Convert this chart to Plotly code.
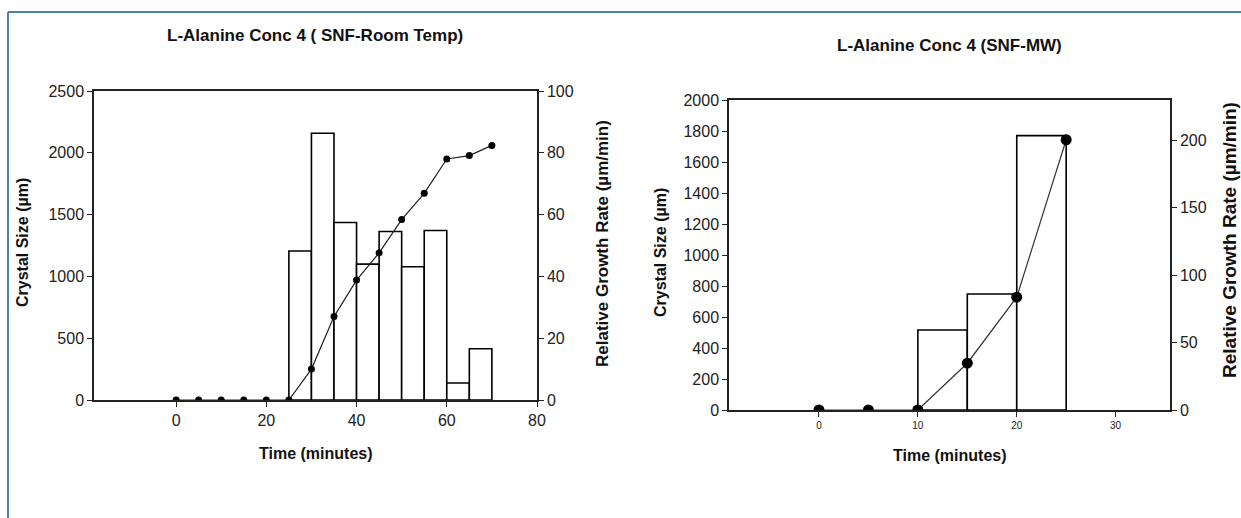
import plotly.graph_objects as go

# ---------------- data ----------------
# Left chart: SNF-Room Temp
rt_bar_start = [25, 30, 35, 40, 45, 50, 55, 60, 65]
rt_crystal_size = [1205, 2158, 1436, 1099, 1363, 1078, 1371, 137, 415]
rt_time = [0, 5, 10, 15, 20, 25, 30, 35, 40, 45, 50, 55, 60, 65, 70]
rt_growth_rate = [0, 0, 0, 0, 0, 0, 10.0, 27.0, 38.8, 47.6, 58.4, 66.9, 78.0, 79.1, 82.4]

# Right chart: SNF-MW
mw_bar_start = [10, 15, 20]
mw_crystal_size = [516, 748, 1770]
mw_time = [0, 5, 10, 15, 20, 25]
mw_growth_rate = [0, 0, 0, 34.7, 83.7, 200.5]

rt_xticks = [0, 20, 40, 60, 80]
mw_xticks = [0, 10, 20, 30]

W, H = 1241, 518
FONT = "Liberation Sans, Arial, sans-serif"


def px(x):
    return x / W


def py(y):
    return 1 - y / H


fig = go.Figure()

bar_style = dict(marker=dict(color="white", line=dict(color="black", width=1.6)),
                 width=5, offset=0, showlegend=False)

fig.add_trace(go.Bar(x=rt_bar_start, y=rt_crystal_size, xaxis="x", yaxis="y", **bar_style))
fig.add_trace(go.Scatter(x=rt_time, y=rt_growth_rate, xaxis="x", yaxis="y2", mode="lines+markers",
                         line=dict(color="#222222", width=1.2),
                         marker=dict(color="black", size=7, symbol="circle"), showlegend=False))

fig.add_trace(go.Bar(x=mw_bar_start, y=mw_crystal_size, xaxis="x2", yaxis="y3", **bar_style))
fig.add_trace(go.Scatter(x=mw_time, y=mw_growth_rate, xaxis="x2", yaxis="y4", mode="lines+markers",
                         line=dict(color="#333333", width=1.2),
                         marker=dict(color="black", size=11, symbol="circle"), showlegend=False))

axis_common = dict(showline=True, linecolor="#222222", linewidth=1.5, showgrid=False,
                   zeroline=False, ticks="outside", ticklen=5, tickcolor="#222222", tickwidth=1.3,
                   automargin=False,
                   tickfont=dict(family=FONT, size=16, color="#222222"))

fig.update_layout(
    width=W, height=H, margin=dict(l=0, r=0, t=0, b=0, pad=0), autosize=False,
    paper_bgcolor="white", plot_bgcolor="white", barmode="overlay",
    xaxis=dict(domain=[px(94), px(537)], range=[-18.2, 80], tickvals=rt_xticks, anchor="y",
               mirror=True, **axis_common),
    yaxis=dict(domain=[py(400), py(91)], range=[0, 2500], dtick=500, anchor="x", **axis_common),
    yaxis2=dict(overlaying="y", side="right", anchor="x", range=[0, 100], dtick=20, **axis_common),
    xaxis2=dict(domain=[px(729), px(1170)], range=[-9.1, 35.5], tickvals=mw_xticks, anchor="y3",
                mirror=True, **{**axis_common, "tickfont": dict(family=FONT, size=10, color="#222222")}),
    yaxis3=dict(domain=[py(410), py(100)], range=[0, 2000], dtick=200, anchor="x2", **axis_common),
    yaxis4=dict(overlaying="y3", side="right", anchor="x2", range=[0, 230], dtick=50, **axis_common),
)

ann = []


def text(x, y, s, size, angle=0):
    ann.append(dict(x=px(x), y=py(y), xref="paper", yref="paper", text=s, showarrow=False,
                    xanchor="center", yanchor="middle", textangle=angle,
                    font=dict(family=FONT, size=size, color="#111111")))


text(315, 36, "<b>L-Alanine Conc 4 ( SNF-Room Temp)</b>", 17)
text(950, 45, "<b>L-Alanine Conc 4 (SNF-MW)</b>", 17)
text(316, 453, "<b>Time (minutes)</b>", 16)
text(950, 455, "<b>Time (minutes)</b>", 16)
text(22, 243, "<b>Crystal Size (µm)</b>", 16, -90)
text(603, 244, "<b>Relative Growth Rate (µm/min)</b>", 17, -90)
text(660, 253, "<b>Crystal Size (µm)</b>", 16, -90)
text(1230, 240, "<b>Relative Growth Rate (µm/min)</b>", 19, -90)

fig.update_layout(annotations=ann)

# outer blue frame
blue = "#4a7ebb"
fig.add_shape(type="line", xref="paper", yref="paper", x0=px(8), x1=1, y0=py(12), y1=py(12),
              line=dict(color=blue, width=2))
fig.add_shape(type="line", xref="paper", yref="paper", x0=px(8), x1=px(8), y0=py(12), y1=0,
              line=dict(color=blue, width=2))

fig.write_html("out.html",
               post_script="document.body.style.margin='0';document.body.style.overflow='hidden';")
